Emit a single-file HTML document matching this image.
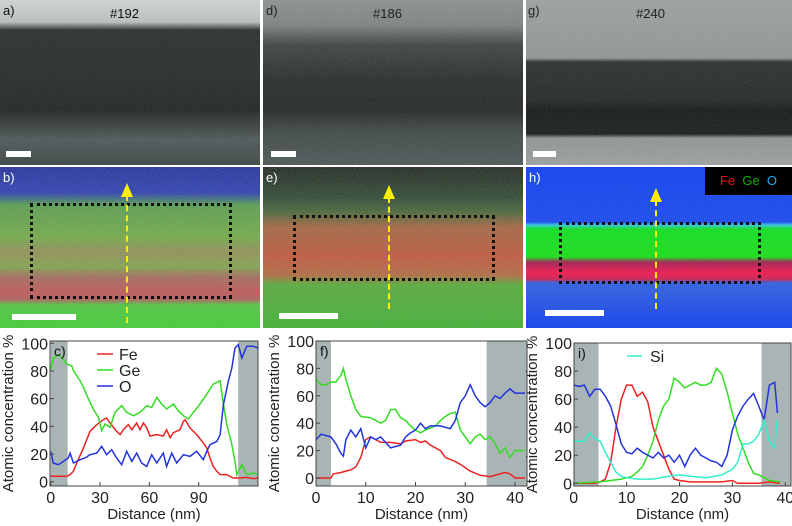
<!DOCTYPE html>
<html><head><meta charset="utf-8">
<style>
body{margin:0;width:792px;height:526px;background:#fff;overflow:hidden;position:relative;font-family:"Liberation Sans",sans-serif}
.p{position:absolute;overflow:hidden}
.lab{position:absolute;font-size:13px;color:#111}
.sb{position:absolute;background:#fff}
.box{position:absolute;border:3px dotted #111;box-sizing:border-box}
.arr{position:absolute;width:0;border-left:2px dashed #ffef00}
.ah{position:absolute;width:0;height:0;border-left:6px solid transparent;border-right:6px solid transparent;border-bottom:14px solid #ffef00}
</style></head><body>
<svg width="0" height="0" style="position:absolute">
<filter id="n1"><feTurbulence type="fractalNoise" baseFrequency="0.9" numOctaves="1" seed="3"/><feColorMatrix type="saturate" values="0"/><feComponentTransfer><feFuncA type="linear" slope="0.35"/></feComponentTransfer></filter>
<filter id="n2"><feTurbulence type="fractalNoise" baseFrequency="1.2" numOctaves="1" seed="7"/><feComponentTransfer><feFuncA type="linear" slope="0.45"/></feComponentTransfer></filter>
</svg>

<div class="p" style="left:0;top:0;width:260px;height:165px;background:linear-gradient(#d0d4d4 0,#bcc0c0 22px,#2a2e2e 30px,#262a2a 80px,#1f2424 110px,#383e3e 125px,#4e5858 140px,#3c4444 165px)">
<svg width="260" height="165" style="position:absolute;left:0;top:0"><rect width="260" height="165" filter="url(#n1)" opacity="0.5"/></svg>
<div class="lab" style="left:3px;top:3px">a)</div><div class="lab" style="left:110px;top:6px">#192</div>
<div class="sb" style="left:6px;top:151px;width:25px;height:6px"></div></div>
<div class="p" style="left:263px;top:0;width:260px;height:165px;background:linear-gradient(#8a9090 0,#7a8080 25px,#3a3f3f 45px,#232727 80px,#1e2222 110px,#3a4242 130px,#4a5454 165px)">
<svg width="260" height="165" style="position:absolute;left:0;top:0"><rect width="260" height="165" filter="url(#n1)" opacity="0.7"/></svg>
<div class="lab" style="left:3px;top:3px;color:#222">d)</div><div class="lab" style="left:110px;top:6px;color:#222">#186</div>
<div class="sb" style="left:8px;top:151px;width:25px;height:6px"></div></div>
<div class="p" style="left:526px;top:0;width:266px;height:165px;background:linear-gradient(#9aa0a0 0,#8e9494 58px,#262a2a 62px,#1e2222 100px,#101313 110px,#141717 134px,#8c9292 138px,#9aa0a0 165px)">
<svg width="266" height="165" style="position:absolute;left:0;top:0"><rect width="266" height="165" filter="url(#n1)" opacity="0.7"/></svg>
<div class="lab" style="left:2px;top:3px;color:#222">g)</div><div class="lab" style="left:110px;top:6px;color:#222">#240</div>
<div class="sb" style="left:7px;top:151px;width:23px;height:6px"></div></div>

<div class="p" style="left:0;top:167px;width:260px;height:161px;background:linear-gradient(#10209a 0,#1a30b0 26px,#4a9a40 38px,#6aa838 70px,#8a8a48 85px,#7aa040 100px,#a06050 110px,#c04a4a 125px,#b05050 132px,#40c830 138px,#30d020 161px)">
<svg width="260" height="161" style="position:absolute;left:0;top:0"><rect width="260" height="161" filter="url(#n2)"/></svg>
<div class="lab" style="left:3px;top:3px;color:#fff">b)</div>
<div class="box" style="left:30px;top:36px;width:202px;height:96px"></div>
<div class="arr" style="left:126px;top:28px;height:128px"></div>
<div class="ah" style="left:121px;top:16px"></div>
<div class="sb" style="left:12px;top:147px;width:64px;height:6px"></div></div>
<div class="p" style="left:263px;top:167px;width:260px;height:161px;background:linear-gradient(#0c140c 0,#1a3a20 30px,#3a5a28 45px,#a05a30 60px,#c04a2a 90px,#b06030 108px,#48a828 118px,#30b020 161px)">
<svg width="260" height="161" style="position:absolute;left:0;top:0"><rect width="260" height="161" filter="url(#n2)"/></svg>
<div class="lab" style="left:3px;top:3px;color:#fff">e)</div>
<div class="box" style="left:30px;top:48px;width:202px;height:66px"></div>
<div class="arr" style="left:125px;top:30px;height:112px"></div>
<div class="ah" style="left:120px;top:18px"></div>
<div class="sb" style="left:16px;top:146px;width:59px;height:6px"></div></div>
<div class="p" style="left:526px;top:167px;width:266px;height:161px;background:linear-gradient(#1040f0 0,#1848f0 55px,#30c8e0 58px,#10e020 62px,#18e018 90px,#a02050 95px,#f01850 105px,#d02050 112px,#3060e0 116px,#1040f0 161px)">
<svg width="266" height="161" style="position:absolute;left:0;top:0"><rect width="266" height="161" filter="url(#n2)" opacity="0.4"/></svg>
<div class="lab" style="left:3px;top:3px;color:#fff">h)</div>
<div style="position:absolute;left:179px;top:0;width:87px;height:28px;background:#000;font-size:13px;line-height:28px;text-align:center"><span style="color:#e01818">Fe</span>&nbsp; <span style="color:#10b010">Ge</span>&nbsp; <span style="color:#20a8f0">O</span></div>
<div class="box" style="left:33px;top:55px;width:202px;height:62px"></div>
<div class="arr" style="left:129px;top:33px;height:109px"></div>
<div class="ah" style="left:124px;top:21px"></div>
<div class="sb" style="left:19px;top:143px;width:59px;height:6px"></div></div>

<svg id="charts" width="792" height="526" style="position:absolute;left:0;top:0"></svg>
<script>
// Chart c
const cFeX=[0,9.7,11.8,13.8,15.8,19.9,23.9,28,32,34,36.1,40.1,42.2,44.2,47.2,49.3,52.3,54.3,56.4,58.4,60.4,64.5,68.5,70.5,72.6,74.6,78.7,80.7,81.7,84.7,88.8,92.8,94.9,96.9,98.9,101,103,107,111,115,119.2,123.3,126.3];
const cFeY=[3.9,3.9,5.1,7.5,13.5,24.3,36.4,41.2,44.8,46,42.4,36.4,34,37.6,41.2,37.6,42.4,37.6,42.4,39,33,34,33,37.6,31.8,35.4,37.6,43.6,44.8,38.8,34,28,24.3,17.1,11,7.5,5.1,5.1,2.7,2.7,3.1,2.2,2.7];
const cGeX=[0,1.6,4.7,7.7,9.7,12.8,13.8,17.8,19.9,22.9,25.9,29,31,33,36.1,39.1,43.2,46.2,50.3,54.3,58.4,61.4,64.5,67.5,70.5,74.6,77.6,80.7,83.7,86.8,90.8,94.9,98.9,103,105,107,110.1,112.1,113.1,116.2,119.2,123.3,126.3];
const cGeY=[80.9,89.4,91.8,88.2,85,83.8,80.2,73,68.2,59.8,52.5,46.5,36.9,41.7,39.3,50.1,54.9,50.1,47.7,50.1,54.9,53.7,60.9,56.1,52.5,56.1,51.3,47.7,45.3,50.1,56.1,63.3,70.5,72.9,56.1,41.7,27.2,14.7,5.1,12.3,5.1,6.3,5.1];
const cOX=[0,1.6,4.7,7.7,10.7,11.8,13.8,17.8,20.9,23.9,28,31,34,37.1,40.1,43.2,46.2,49.3,52.3,55.3,58.4,61.4,64.5,68.5,70.5,73.6,76.6,80.7,84.7,88.8,92.8,94.9,96.9,101,103,105,108,110.1,112.1,114.1,116.2,119.2,123.3,126.3];
const cOY=[21.9,13.5,12.3,14.7,17.1,20.7,13.5,15.9,17.1,19.5,20.7,25.5,19.5,23.1,17.1,12.3,22,14.7,20.7,13.5,11,19.5,13.5,20.7,11,20.7,13.5,19.5,18.3,22,15.9,22,26.7,29.1,33.9,55.6,72.5,82.1,96.6,99,89.4,97.8,97.8,96.6];
// Chart f
const fFeX=[0,3,3.5,5,6,7,8,9,10,11,12,13,15,17,18,20,21,22,23,25,26,28,29,31,33,35,37,38,39,40,42];
const fFeY=[0,0,3,4,5,6,8,15,28,30,28,26,26,25,27,28,26,27,24,20,15,12,10,5,2,1,3,4,3,0,0];
const fGeX=[0,1,2,3,4,5,5.5,6,7,8,9,11,13,14,15,16,17,18,19,20,21,22,24,25,26,27,28,29,30,31,32,33,34,35,36,37,38,39,40,42];
const fGeY=[72,68,68,70,70,75,80,72,60,50,45,44,40,42,50,50,44,42,38,35,33,35,38,42,45,47,48,35,30,25,30,32,28,30,25,18,22,15,20,20];
const fOX=[0,1,2,3,4,5,5.5,6,7,8,9,10,11,12,13,14,15,17,18,19,20,21,22,23,25,27,28,29,30,31,32,33,34,35,36,37,38,39,40,42];
const fOY=[28,32,31,30,25,18,16,28,35,30,36,22,30,28,30,26,22,24,30,33,35,40,36,38,38,36,42,55,60,68,60,55,52,55,60,58,62,65,62,62];
// Chart i
const iFeX=[0,4,5,6,7,8,9,10,11,12,13,14,15,16,17,18,19,20,22,25,28,30,31,35,37,39];
const iFeY=[0,0,1,3,15,40,60,70,70,62,65,58,40,30,20,10,3,2,1,1,1,2,0,0,1,0];
const iGeX=[0,5,7,9,11,12,13,14,15,16,17,18,19,20,21,22,23,24,25,26,27,28,29,30,31,32,33,34,35,37,39];
const iGeY=[0,1,2,3,5,8,12,20,30,45,55,60,75,72,68,70,72,70,70,72,82,78,65,50,35,25,15,7,6,2,1];
const iOX=[0,1,2,3,4,5,6,7,8,9,10,11,12,13,14,15,16,17,18,19,20,21,22,23,24,25,26,27,28,29,30,31,32,33,34,35,36,37,38,38.5];
const iOY=[70,69,70,62,67,67,62,55,42,28,22,21,25,22,20,18,22,18,20,15,20,12,20,25,20,18,16,15,12,20,38,48,55,60,64,55,45,70,72,50];
const iSiX=[0,2,3,4,5,6,7,8,9,10,12,15,18,20,22,25,28,30,31,32,33,34,35,36,37,38,38.5];
const iSiY=[30,30,36,32,30,22,15,8,5,4,3,3,5,6,5,4,6,10,15,28,28,30,35,45,30,25,45];
const xTicksC=[0,30,60,90], xTicksF=[0,10,20,30,40], xTicksI=[0,10,20,30,40];
const yTicks=[0,20,40,60,80,100];

const svg=document.getElementById('charts');
const NS='http://www.w3.org/2000/svg';
function mk(t,a,p){const e=document.createElementNS(NS,t);for(const k in a)e.setAttribute(k,a[k]);(p||svg).appendChild(e);return e;}
const RED='#ee2222',GRN='#33dd22',BLU='#2233dd',CYN='#33eecc';
function chart(id,L,R,T,B,x0pix,x1pix,x1val,y100,y0,gray,xt,series,label){
  const g=mk('g',{});
  
  
  const sx=v=>x0pix+(x1pix-x0pix)*v/x1val;
  const sy=v=>y0+(y100-y0)*v/100;
  const cx=v=>Math.min(R,Math.max(L,sx(v)));
  mk('rect',{x:L,y:T,width:R-L,height:B-T,fill:'#fff'},g);
  gray.forEach(([a,b])=>{const r=mk('rect',{x:cx(a),y:T,width:cx(b)-cx(a),height:B-T,fill:'#a9b5b5'},g);
    
    });
  series.forEach(([xs,ys,c,n])=>{
    const pl=mk('polyline',{points:xs.map((x,i)=>cx(x).toFixed(1)+','+sy(ys[i]).toFixed(1)).join(' '),fill:'none',stroke:c,'stroke-width':1.5},g);
    
    
  });
  mk('rect',{x:L,y:T,width:R-L,height:B-T,fill:'none',stroke:'#444','stroke-width':1},g);
  yTicks.forEach(v=>{mk('line',{x1:L,x2:L+4,y1:sy(v),y2:sy(v),stroke:'#444'},g);
    const t=mk('text',{x:L-2,y:sy(v)+6,'text-anchor':'end','font-size':16,fill:'#222'},g);t.textContent=v;
    
    });
  xt.forEach(v=>{mk('line',{x1:sx(v),x2:sx(v),y1:B,y2:B-4,stroke:'#444'},g);
    const t=mk('text',{x:sx(v),y:B+17,'text-anchor':'middle','font-size':16,fill:'#222'},g);t.textContent=v;
    
    });
  const xl=mk('text',{x:(L+R)/2,y:B+33,'text-anchor':'middle','font-size':15,fill:'#222'},g);xl.textContent='Distance (nm)';
  
  
  const yl=mk('text',{x:0,y:0,'text-anchor':'middle','font-size':15,fill:'#222',transform:`translate(${L-37},${(T+B)/2}) rotate(-90)`},g);yl.textContent='Atomic concentration %';
  
  
  const pl=mk('text',{x:L+4,y:T+15,'font-size':14,fill:'#111'},g);pl.textContent=label;
  
  
}
chart('c',50,258,341,486,50.7,198.7,90,343.3,481.7,[[0,10.3],[114,130]],xTicksC,[[cFeX,cFeY,RED,'fe'],[cGeX,cGeY,GRN,'ge'],[cOX,cOY,BLU,'o']],'c)');
chart('f',316,527,341,486,316,515,40,341,478,[[0,3],[34.3,50]],xTicksF,[[fFeX,fFeY,RED,'fe'],[fGeX,fGeY,GRN,'ge'],[fOX,fOY,BLU,'o']],'f)');
chart('i',574,791,343,486,573.7,785.3,40,343,483.3,[[0,4.7],[35.5,50]],xTicksI,[[iFeX,iFeY,RED,'fe'],[iGeX,iGeY,GRN,'ge'],[iOX,iOY,BLU,'o'],[iSiX,iSiY,CYN,'si']],'i)');
[['Fe',RED,354],['Ge',GRN,370],['O',BLU,386]].forEach(([n,c,y])=>{
  const l=mk('line',{x1:97,x2:113,y1:y,y2:y,stroke:c,'stroke-width':1.5});
  
  
  const t=mk('text',{x:119,y:y+6,'font-size':16,fill:'#222'});t.textContent=n;
  
  
});
const sl=mk('line',{x1:627,x2:642,y1:356,y2:356,stroke:CYN,'stroke-width':1.5});


const st=mk('text',{x:650,y:362,'font-size':16,fill:'#222'});st.textContent='Si';


</script>
</body></html>
